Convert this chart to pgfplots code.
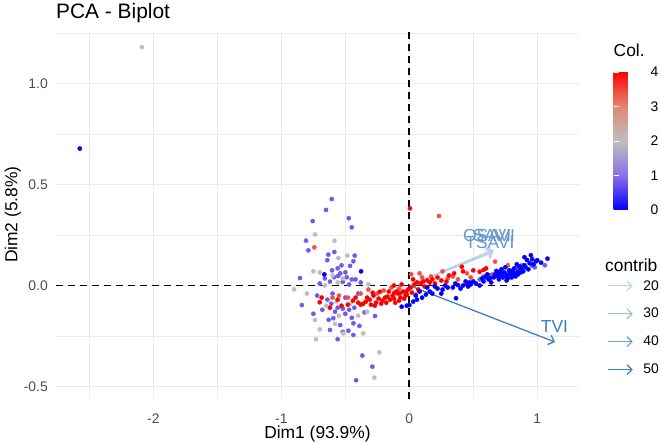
\documentclass[border=0pt]{standalone}
\usepackage{fontspec}
\setmainfont{Liberation Sans}
\usepackage{pgfplots}
\pgfplotsset{compat=1.18}
\usepackage{pgfplotstable}
\usetikzlibrary{arrows.meta}
\pgfplotsset{/pgf/number format/assume math mode=true}

\definecolor{gridc}{HTML}{EBEBEB}
\definecolor{tickc}{HTML}{4D4D4D}
\definecolor{ct20}{RGB}{190,214,236}
\definecolor{ct30}{RGB}{150,190,228}
\definecolor{ct40}{RGB}{104,160,210}
\definecolor{ct50}{RGB}{62,128,189}
\definecolor{arrlight}{RGB}{182,208,234}
\definecolor{lablight}{RGB}{100,152,204}

\pgfplotsset{colormap={colcol}{rgb255(0)=(0,0,255) rgb255(1)=(140,112,232)
  rgb255(2)=(190,190,190) rgb255(3)=(226,136,116) rgb255(4)=(255,0,0)}}

% individuals: Dim1, Dim2, Col.
\pgfplotstableread{
x y c
-2.575 0.678 0
-2.090 1.180 2
-0.606 0.428 0.8
-0.651 0.374 0.8
-0.755 0.319 0.8
-0.473 0.333 0.8
-0.450 0.288 0.8
-0.807 0.222 0.8
-0.789 0.174 0.8
-0.586 0.166 0.8
-0.633 0.153 0.8
-0.641 0.125 0.8
-0.427 0.148 0.8
-0.437 0.120 0.8
-0.463 0.097 0.8
-0.604 0.075 0.8
-0.557 0.047 0.8
-0.588 0.041 0.8
-0.489 0.041 0.8
-0.450 0.030 0.8
-0.420 0.030 0.8
-0.620 0.019 0.8
-0.854 0.037 0.8
-0.540 0.060 0.8
-0.520 0.018 0.8
-0.470 0.005 0.8
-0.700 0.010 0.8
-0.660 0.035 0.8
-0.530 0.100 0.8
-0.380 0.015 0.8
-0.560 0.085 0.8
-0.500 0.065 0.8
-0.737 0.253 2
-0.585 0.222 2
-0.555 0.136 2
-0.484 0.148 2
-0.750 0.070 2
-0.700 0.065 2
-0.600 0.050 2
-0.520 0.035 2
-0.900 -0.019 2
-0.320 0.006 2
-0.660 0.000 2
-0.560 0.015 2
-0.742 0.189 3.4
-0.664 0.055 0
-0.377 0.070 0
-0.840 -0.097 0.8
-0.640 -0.070 0.8
-0.610 -0.090 0.8
-0.560 -0.110 0.8
-0.520 -0.115 0.8
-0.470 -0.120 0.8
-0.430 -0.110 0.8
-0.580 -0.130 0.8
-0.630 -0.170 0.8
-0.594 -0.162 0.8
-0.540 -0.196 0.8
-0.437 -0.187 0.8
-0.476 -0.224 0.8
-0.437 -0.245 0.8
-0.560 -0.266 0.8
-0.268 -0.151 0.8
-0.350 -0.133 0.8
-0.367 -0.347 0.8
-0.289 -0.402 0.8
-0.416 -0.469 0.8
-0.500 -0.140 0.8
-0.680 -0.120 0.8
-0.720 -0.050 0.8
-0.500 -0.060 0.8
-0.400 -0.040 0.8
-0.600 -0.040 0.8
-0.450 -0.160 0.8
-0.390 -0.200 0.8
-0.520 -0.230 0.8
-0.620 -0.220 0.8
-0.750 -0.140 0.8
-0.570 -0.080 2
-0.550 -0.150 2
-0.400 -0.150 2
-0.330 -0.130 2
-0.737 -0.171 2
-0.700 -0.217 2
-0.516 -0.237 2
-0.360 -0.237 2
-0.730 -0.266 2
-0.234 -0.331 2
-0.273 -0.456 2
-0.650 -0.100 2
-0.460 -0.090 2
-0.800 -0.040 2
-0.580 -0.190 2
-0.550 -0.050 3.4
-0.480 -0.060 3.4
-0.600 -0.060 3.4
-0.250 -0.040 3.4
-0.200 -0.025 3.4
-0.320 -0.020 3.4
-0.380 -0.040 3.4
-0.140 -0.010 3.4
-0.080 -0.015 3.4
0.050 -0.045 3.4
0.100 0.040 3.4
0.170 0.045 3.4
0.300 0.035 3.4
0.340 0.045 3.4
0.380 0.030 3.4
0.450 0.060 3.4
0.260 0.070 3.4
0.480 0.040 3.4
0.015 0.055 3.4
0.650 0.055 3.4
0.080 0.060 3.4
0.232 0.344 3.4
0.670 0.118 3.4
0.770 0.100 3.4
0.840 0.090 3.4
-0.700 -0.083 4
-0.685 -0.060 4
-0.530 -0.100 4
-0.620 -0.110 4
-0.480 -0.095 4
-0.560 -0.070 4
-0.440 -0.075 4
-0.420 -0.060 4
-0.400 -0.085 4
-0.380 -0.095 4
-0.360 -0.090 4
-0.340 -0.080 4
-0.330 -0.060 4
-0.310 -0.070 4
-0.300 -0.095 4
-0.286 -0.036 4
-0.280 -0.050 4
-0.270 -0.100 4
-0.260 -0.085 4
-0.240 -0.065 4
-0.230 -0.031 4
-0.220 -0.090 4
-0.210 -0.075 4
-0.190 -0.060 4
-0.180 -0.085 4
-0.170 -0.055 4
-0.160 -0.030 4
-0.150 -0.070 4
-0.130 -0.050 4
-0.120 -0.065 4
-0.117 -0.036 4
-0.110 -0.085 4
-0.100 -0.030 4
-0.090 -0.040 4
-0.080 -0.075 4
-0.073 -0.039 4
-0.070 -0.060 4
-0.050 -0.030 4
-0.040 -0.065 4
-0.030 -0.050 4
-0.026 -0.031 4
-0.020 -0.045 4
-0.010 -0.020 4
-0.060 0.005 4
-0.120 0.000 4
0.010 -0.010 4
0.020 -0.035 4
0.030 0.030 4
0.040 0.005 4
0.060 0.015 4
0.070 -0.020 4
0.090 0.010 4
0.110 0.020 4
0.120 -0.005 4
0.140 0.025 4
0.160 0.015 4
0.180 0.030 4
0.200 0.010 4
0.220 0.040 4
0.250 0.025 4
0.290 0.019 4
0.310 0.050 4
0.350 0.060 4
0.410 0.093 4
0.420 0.070 4
0.500 0.075 4
0.550 0.068 4
0.580 0.077 4
0.600 0.085 4
0.005 0.382 4
0.550 0.030 0.8
0.580 0.045 0.8
0.600 0.038 0.8
0.630 0.050 0.8
0.700 0.065 0.8
0.800 0.060 0.8
0.880 0.100 0.8
0.960 0.097 0.8
0.980 0.090 0.8
1.060 0.100 0.8
-0.060 -0.105 0
-0.020 -0.100 0
0.000 -0.097 0
0.030 -0.080 0
0.060 -0.070 0
0.050 -0.050 0
0.080 -0.030 0
0.100 -0.060 0
0.130 -0.045 0
0.140 -0.010 0
0.160 -0.030 0
0.180 -0.040 0
0.200 -0.005 0
0.220 -0.015 0
0.250 -0.040 0
0.260 -0.020 0
0.280 0.000 0
0.300 -0.010 0
0.340 -0.010 0
0.365 -0.063 0
0.360 0.010 0
0.380 0.002 0
0.400 -0.015 0
0.420 0.000 0
0.440 0.020 0
0.450 0.005 0
0.460 -0.005 0
0.470 0.015 0
0.480 0.005 0
0.500 0.020 0
0.520 0.010 0
0.550 0.000 0
0.570 0.035 0
0.580 0.020 0
0.600 0.045 0
0.610 0.055 0
0.620 0.030 0
0.630 0.035 0
0.640 0.015 0
0.660 0.040 0
0.670 0.055 0
0.680 0.072 0
0.690 0.045 0
0.700 0.060 0
0.700 0.030 0
0.710 0.070 0
0.720 0.050 0
0.720 0.080 0
0.730 0.040 0
0.740 0.065 0
0.750 0.090 0
0.750 0.060 0
0.760 0.045 0
0.760 0.025 0
0.770 0.035 0
0.780 0.055 0
0.780 0.075 0
0.790 0.065 0
0.800 0.040 0
0.810 0.052 0
0.810 0.075 0
0.820 0.085 0
0.830 0.060 0
0.830 0.045 0
0.840 0.105 0
0.850 0.070 0
0.850 0.055 0
0.860 0.095 0
0.870 0.065 0
0.870 0.085 0
0.880 0.080 0
0.890 0.070 0
0.900 0.100 0
0.900 0.140 0
0.910 0.090 0
0.920 0.126 0
0.930 0.080 0
0.940 0.110 0
0.950 0.150 0
0.960 0.130 0
0.970 0.105 0
0.990 0.120 0
1.000 0.125 0
1.030 0.113 0
1.080 0.133 0
}\indiv

\begin{document}
\begin{tikzpicture}
\useasboundingbox (0,0) rectangle (661pt,443pt);
\begin{axis}[
  at={(56pt,44.4pt)}, anchor=south west,
  scale only axis, width=523pt, height=368pt,
  xmin=-2.761, xmax=1.326, ymin=-0.56, ymax=1.262,
  xtick={-2,-1,0,1}, minor xtick={-2.5,-1.5,-0.5,0.5},
  ytick={-0.5,0,0.5,1}, minor ytick={-0.25,0.25,0.75,1.25},
  grid=both,
  major grid style={draw=gridc, line width=1.1pt},
  minor grid style={draw=gridc, line width=0.55pt},
  axis line style={draw=none},
  major tick length=0pt, minor tick length=0pt,
  tick label style={font=\fontsize{13.9}{14}\selectfont, text=tickc, inner sep=0pt},
  xticklabel style={anchor=north, yshift=-15pt},
  yticklabel style={anchor=east, xshift=-8pt,
    /pgf/number format/.cd, fixed, fixed zerofill, precision=1},
  title={PCA - Biplot},
  title style={at={(0,1)}, anchor=base west, inner sep=0pt, yshift=6.3pt,
    font=\fontsize{20.9}{22}\selectfont},
  xlabel={Dim1 (93.9\%)},
  xlabel style={at={(axis description cs:0.5,0)}, anchor=base, inner sep=0pt,
    yshift=-39.9pt, font=\fontsize{17.4}{18}\selectfont},
  ylabel={Dim2 (5.8\%)},
  ylabel style={at={([xshift=-38.5pt]axis description cs:0,0.5)}, anchor=base,
    inner sep=0pt, font=\fontsize{17.4}{18}\selectfont},
  clip=false,
  colormap name=colcol,
  point meta min=0, point meta max=4,
  colorbar,
  colorbar style={
    at={(parent axis.north east)}, anchor=north west,
    xshift=26pt, yshift=-41.4pt,
    scale only axis, width=28pt, height=138pt,
    ytick={0,1,2,3,4},
    tick align=inside,
    ytick pos=both,
    yticklabel pos=right,
    major tick length=5.6pt,
    tick style={white, line width=0.6pt},
    axis line style={draw=none},
    yticklabel style={font=\fontsize{13.9}{14}\selectfont, text=black,
      inner sep=0pt, anchor=west, xshift=9pt},
    title={Col.},
    title style={at={(0,1)}, anchor=base west, inner sep=0pt, yshift=9pt,
      font=\fontsize{17.4}{18}\selectfont},
  },
  legend style={at={(1.0535,0.322)}, anchor=north west, draw=none, fill=none,
    inner sep=0pt, font=\fontsize{13.9}{14}\selectfont, row sep=16.7pt,
    /tikz/every odd column/.append style={column sep=10pt},
    nodes={inner sep=0pt}},
  legend cell align=left,
  legend image code/.code={\draw[#1, line width=1.2pt,
    -{Straight Barb[length=5pt,width=10pt]}] (0pt,0pt) -- (25pt,0pt);},
]
% zero lines
\addplot[forget plot, black, line width=1.8pt, dash pattern=on 7pt off 5pt]
  coordinates {(-2.761,0) (1.326,0)};
\addplot[forget plot, black, line width=1.8pt, dash pattern=on 7pt off 5pt]
  coordinates {(0,-0.56) (0,1.262)};
% individuals
\addplot[forget plot, scatter, only marks, mark=*, mark size=2.1pt,
  scatter/use mapped color={draw=mapped color, fill=mapped color},
  point meta=\thisrow{c}] table[x=x, y=y] {\indiv};
% variables
\addplot[forget plot, arrlight, line width=1.3pt,
  -{Straight Barb[length=5pt,width=10pt]}] coordinates {(0,0) (0.650,0.175)};
\addplot[forget plot, arrlight, line width=1.3pt,
  -{Straight Barb[length=5pt,width=10pt]}] coordinates {(0,0) (0.660,0.175)};
\addplot[forget plot, arrlight, line width=1.3pt,
  -{Straight Barb[length=5pt,width=10pt]}] coordinates {(0,0) (0.655,0.165)};
\addplot[forget plot, ct50, line width=1.3pt,
  -{Straight Barb[length=5pt,width=10pt]}] coordinates {(0,0) (1.138,-0.280)};
\node[text=lablight, font=\fontsize{17.4}{18}\selectfont, inner sep=0pt]
  at (axis cs:0.623,0.245) {OSAVI};
\node[text=lablight, font=\fontsize{17.4}{18}\selectfont, inner sep=0pt]
  at (axis cs:0.646,0.245) {SAVI};
\node[text=lablight, font=\fontsize{17.4}{18}\selectfont, inner sep=0pt]
  at (axis cs:0.630,0.215) {TSAVI};
\node[text=ct50, font=\fontsize{17.4}{18}\selectfont, inner sep=0pt]
  at (axis cs:1.134,-0.204) {TVI};
% contrib legend
\addlegendimage{ct20}
\addlegendentry{20}
\addlegendimage{ct30}
\addlegendentry{30}
\addlegendimage{ct40}
\addlegendentry{40}
\addlegendimage{ct50}
\addlegendentry{50}
\node[anchor=base west, inner sep=0pt, font=\fontsize{17.4}{18}\selectfont]
  at (rel axis cs:1.0497,0.3467) {contrib};
\end{axis}
\end{tikzpicture}
\end{document}
